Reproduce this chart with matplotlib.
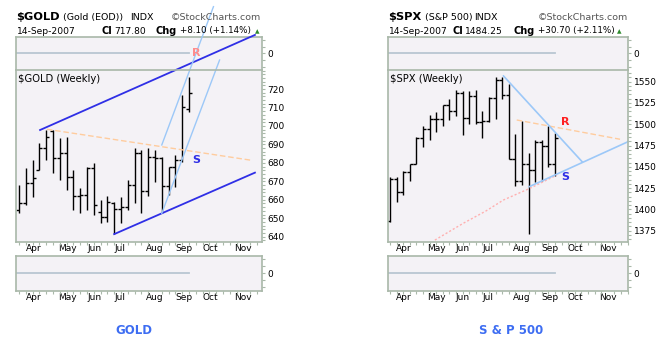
import matplotlib
matplotlib.use('Agg')
import matplotlib.pyplot as plt
from matplotlib.ticker import FixedLocator, MultipleLocator

#------------------------ data (weekly bars, 23-Mar-2007 .. 14-Sep-2007)

weeks = list(range(26))
month_pos = [2.1, 7.1, 11.05, 14.9, 20.0, 24.2, 28.15, 33.0]
month_lbl = ['Apr', 'May', 'Jun', 'Jul', 'Aug', 'Sep', 'Oct', 'Nov']

gold_open = [654.5, 658.1, 669.3, 676.1, 688.0, 697.0, 682.5, 685.2, 672.5, 662.0, 662.6, 677.0, 653.5,
             650.8, 658.0, 654.8, 656.0, 668.0, 685.2, 665.0, 683.0, 682.5, 667.5, 677.6, 681.5, 709.0]
gold_high = [668.0, 677.0, 681.5, 690.6, 697.8, 697.8, 693.3, 694.2, 676.1, 666.2, 677.9, 679.7, 660.0,
             662.0, 659.0, 661.7, 670.7, 687.9, 687.0, 687.9, 687.0, 683.3, 677.9, 684.2, 716.7, 726.7]
gold_low = [652.7, 657.2, 661.7, 676.1, 681.5, 674.3, 670.7, 665.3, 654.5, 652.7, 654.5, 652.0, 647.2,
            648.0, 641.5, 647.2, 654.5, 658.1, 652.7, 662.0, 669.8, 652.7, 662.6, 667.1, 680.5, 707.7]
gold_close = [658.1, 669.3, 671.6, 688.0, 694.0, 682.5, 685.2, 672.5, 662.0, 662.6, 677.0, 657.0, 650.8,
              659.0, 654.8, 656.0, 668.0, 685.2, 665.0, 683.0, 682.5, 667.5, 677.6, 681.5, 710.4, 718.0]
gold_yticks = [640, 650, 660, 670, 680, 690, 700, 710, 720]

spx_open = [1386.9, 1436.1, 1420.8, 1443.8, 1452.8, 1484.4, 1494.1, 1505.6, 1505.9, 1522.8, 1515.7, 1536.3, 1507.7,
            1532.9, 1502.6, 1503.4, 1530.4, 1552.5, 1534.1, 1459.0, 1433.1, 1453.6, 1445.9, 1479.4, 1474.0, 1453.6]
spx_high = [1437.7, 1437.8, 1444.9, 1453.1, 1484.7, 1498.0, 1510.3, 1513.8, 1522.8, 1529.3, 1540.6, 1539.2, 1538.7,
            1540.0, 1516.0, 1532.4, 1555.9, 1555.1, 1547.2, 1488.3, 1503.9, 1466.3, 1481.5, 1481.5, 1498.0, 1489.6]
spx_low = [1385.6, 1408.9, 1416.4, 1433.9, 1452.8, 1473.7, 1482.0, 1491.4, 1498.1, 1505.0, 1510.0, 1487.4, 1500.0,
           1500.4, 1484.2, 1503.0, 1506.6, 1529.9, 1458.9, 1427.4, 1429.1, 1370.6, 1432.0, 1432.8, 1449.6, 1439.3]
spx_close = [1436.1, 1420.9, 1443.8, 1452.9, 1484.4, 1494.1, 1505.6, 1505.9, 1522.8, 1515.7, 1536.3, 1507.7, 1532.9,
             1502.6, 1503.4, 1530.4, 1552.5, 1534.1, 1459.0, 1433.1, 1453.6, 1445.9, 1479.4, 1474.0, 1453.6, 1484.3]
spx_yticks = [1375, 1400, 1425, 1450, 1475, 1500, 1525, 1550]

# hand drawn trend lines (week index, price)
gold_upper = ([3.1, 34.7], [697.8, 749.3])
gold_lower = ([14.0, 34.7], [641.4, 674.7])
gold_fast_a = ([21.0, 28.6], [689.7, 764.6])
gold_fast_b = ([21.0, 29.5], [652.7, 735.7])
gold_resist = ([4.1, 34.0], [698.2, 681.5])

spx_down = ([17.2, 29.1], [1556.7, 1456.1])
spx_up = ([21.1, 36.06], [1426.7, 1479.5])
spx_resist = ([19.2, 34.85], [1505.0, 1482.4])
spx_ma_x = [6.8, 11.1, 14.5, 17.2, 21.2, 25.3]
spx_ma_y = [1364.0, 1383.7, 1398.0, 1411.1, 1424.8, 1440.4]

#------------------------

W, H = 672, 352
fig = plt.figure(figsize=(W / 100, H / 100), dpi=100)
plt.rcParams['font.family'] = ['DejaVu Sans']

FRAME = '#a9b8a9'
FACE = '#f4f2f6'


def box(x0, y0, x1, y1):
    return [x0 / W, 1 - y1 / H, (x1 - x0) / W, (y1 - y0) / H]


def style(ax, xlim):
    ax.set_facecolor(FACE)
    for s in ax.spines.values():
        s.set_color(FRAME)
        s.set_linewidth(1.2)
    ax.set_xlim(*xlim)
    ax.yaxis.tick_right()
    ax.tick_params(axis='both', colors=FRAME, labelcolor='black', labelsize=6.5,
                   length=2.5, width=0.8, pad=1.5)
    ax.tick_params(which='minor', colors=FRAME, length=1.8, width=0.8)
    ax.xaxis.set_major_locator(FixedLocator(month_pos))
    ax.xaxis.set_minor_locator(MultipleLocator(1))
    ax.tick_params(axis='x', which='major', length=0)


def panel(x0, x1, xlim, o, h, l, c, ylim, yticks, name):
    top = fig.add_axes(box(x0, 36.7, x1, 70))
    style(top, xlim)
    top.spines['bottom'].set_visible(False)
    top.set_ylim(-1, 1)
    top.set_yticks([0])
    top.yaxis.set_minor_locator(MultipleLocator(0.4))
    top.tick_params(axis='x', which='both', length=0, labelbottom=False)
    top.plot([xlim[0], 25], [0, 0], color='#b9c6d2', lw=1.3)

    ax = fig.add_axes(box(x0, 70, x1, 241.7))
    ax.set_zorder(2)
    style(ax, xlim)
    ax.set_ylim(*ylim)
    ax.set_yticks(yticks)
    ax.yaxis.set_minor_locator(MultipleLocator((yticks[1] - yticks[0]) / 5))
    ax.set_xticklabels(month_lbl)
    ax.vlines(weeks, l, h, color='black', lw=1.0)
    ax.hlines(o, [w - 0.45 for w in weeks], weeks, color='black', lw=1.0)
    ax.hlines(c, weeks, [w + 0.45 for w in weeks], color='black', lw=1.0)
    ax.text(0.008, 0.975, name + ' (Weekly)', transform=ax.transAxes, fontsize=7.2,
            va='top', ha='left')

    bot = fig.add_axes(box(x0, 256, x1, 290.7))
    style(bot, xlim)
    bot.set_ylim(-1, 1)
    bot.set_yticks([0])
    bot.yaxis.set_minor_locator(MultipleLocator(0.4))
    bot.set_xticklabels(month_lbl)
    bot.plot([xlim[0], 25], [0, 0], color='#b9c6d2', lw=1.3)
    return ax


def header(parts, y):
    for x, s, bold, size, col in parts:
        fig.text(x / W, 1 - y / H, s, fontsize=size, fontweight='bold' if bold else 'normal',
                 color=col, ha='left', va='baseline')


#------------------------ GOLD

ax = panel(16, 262, (-0.44, 35.74), gold_open, gold_high, gold_low, gold_close,
           (637.3, 730.3), gold_yticks, '$GOLD')
ax.plot(*gold_upper, color='#2f2fe6', lw=1.3, clip_on=False)
ax.plot(*gold_lower, color='#2f2fe6', lw=1.3, clip_on=False)
ax.plot(*gold_fast_a, color='#9cc8f8', lw=1.0, clip_on=False)
ax.plot(*gold_fast_b, color='#9cc8f8', lw=1.0, clip_on=False)
ax.plot(*gold_resist, color='#ffcc9e', lw=1.0, dashes=(4, 2), clip_on=False)
ax.text(26.1, 739.3, 'R', color='#ff8c8c', fontsize=8, fontweight='bold', ha='center', va='center')
ax.text(26.1, 681.5, 'S', color='#2f2fe6', fontsize=8, fontweight='bold', ha='center', va='center')

header([(16.5, '$GOLD', True, 8.2, 'black'), (63, '(Gold (EOD))', False, 6.8, 'black'),
        (130, 'INDX', False, 6.8, 'black'), (171, '\u00a9StockCharts.com', False, 6.8, '#555555')], 20)
header([(16.5, '14-Sep-2007', False, 6.6, 'black'), (101, 'Cl', True, 7.0, 'black'),
        (114, '717.80', False, 6.6, 'black'), (155, 'Chg', True, 7.0, 'black'),
        (180, '+8.10 (+1.14%)', False, 6.3, 'black'), (255, '\u25b2', False, 4.2, '#2e8b2e')], 33.5)
fig.text(134 / W, 1 - 331 / H, 'GOLD', color='#3d6df2', fontsize=8.5, fontweight='bold',
         ha='center', va='center')

#------------------------ S&P 500

ax = panel(388, 628, (-0.3, 36.06), spx_open, spx_high, spx_low, spx_close,
           (1362.1, 1563.7), spx_yticks, '$SPX')
ax.plot(spx_ma_x, spx_ma_y, color='#ffb0b0', lw=1.0, ls=(0, (1.5, 1.5)))
ax.plot(*spx_resist, color='#ffcc9e', lw=1.0, dashes=(4, 2), clip_on=False)
ax.plot(*spx_down, color='#9cc8f8', lw=1.2, clip_on=False)
ax.plot(*spx_up, color='#9cc8f8', lw=1.2, clip_on=False)
ax.text(26.5, 1503, 'R', color='#ff2020', fontsize=8, fontweight='bold', ha='center', va='center')
ax.text(26.5, 1437.7, 'S', color='#2f2fe6', fontsize=8, fontweight='bold', ha='center', va='center')

header([(388.5, '$SPX', True, 8.2, 'black'), (425, '(S&P 500)', False, 6.8, 'black'),
        (474, 'INDX', False, 6.8, 'black'), (538, '\u00a9StockCharts.com', False, 6.8, '#555555')], 20)
header([(388.5, '14-Sep-2007', False, 6.6, 'black'), (452, 'Cl', True, 7.0, 'black'),
        (465, '1484.25', False, 6.6, 'black'), (513, 'Chg', True, 7.0, 'black'),
        (538, '+30.70 (+2.11%)', False, 6.3, 'black'), (617, '\u25b2', False, 4.2, '#2e8b2e')], 33.5)
fig.text(511 / W, 1 - 331 / H, 'S & P 500', color='#3d6df2', fontsize=8.5, fontweight='bold',
         ha='center', va='center')

plt.savefig('out.png', dpi=100, facecolor='white')
